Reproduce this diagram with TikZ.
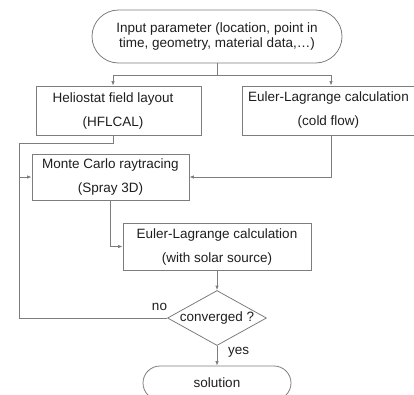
\documentclass[tikz,border=0pt]{standalone}
\usepackage{fontspec}
\setmainfont{Liberation Sans}
\usetikzlibrary{shapes.misc,shapes.geometric,arrows.meta}
\definecolor{linegray}{RGB}{125,125,125}
\definecolor{txtgray}{RGB}{30,30,30}
\tikzset{
  every node/.style={text=txtgray, inner sep=0pt},
  boxfont/.style={font=\fontsize{13.5}{24}\selectfont},
  stadium/.style={rounded rectangle, draw=linegray, line width=0.8pt},
  procbox/.style={rectangle, draw=linegray, line width=0.8pt},
  decision/.style={diamond, draw=linegray, line width=0.8pt},
  con/.style={draw=linegray, line width=0.8pt},
  arr/.style={con, -{Latex[length=4.5pt,width=3.5pt]}},
  lbl/.style={font=\fontsize{13.5}{16}\selectfont},
}
\begin{document}
\begin{tikzpicture}[x=1pt,y=-1pt]
\useasboundingbox (0,0) rectangle (414,394);

% terminals
\node[stadium, minimum width=250, minimum height=53, align=center,
      font=\fontsize{13.5}{15.5}\selectfont] (inp) at (217,36.5)
  {Input parameter (location, point in\\time, geometry, material data,\dots)};
\node[stadium, minimum width=148, minimum height=34, lbl] (sol) at (217,383) {solution};

% process boxes
\node[procbox, minimum width=165, minimum height=49] (hfl) at (118.5,110.5) {};
\node[boxfont, align=center] (hfltxt) at ([xshift=-5.5,yshift=-1]hfl.center)
  {Heliostat field layout\\(HFLCAL)};
\node[procbox, boxfont, align=center, minimum width=173, minimum height=49] (ecold) at (328.5,110.5)
  {Euler-Lagrange calculation\\(cold flow)};
\node[procbox, boxfont, align=center, minimum width=157, minimum height=46] (mc) at (110.5,177)
  {Monte Carlo raytracing\\(Spray 3D)};
\node[procbox, boxfont, align=center, minimum width=188, minimum height=47] (esol) at (217,246.5)
  {Euler-Lagrange calculation\\(with solar source)};

% decision
\node[decision, lbl, minimum width=99, minimum height=55, aspect=1.8] (dia) at (217,318) {converged ?};

% branch from the input parameters
\coordinate (split) at ([yshift=-12]inp.south);
\draw[con] (inp.south) -- (split);
\draw[arr] (split) -| ([xshift=-5.5]hfl.north);
\draw[arr] (split) -| ([xshift=2.5]ecold.north);

% feedback loop and heliostat output into the raytracer
\coordinate (jn) at (19,177);
\draw[con] ([xshift=-5.5]hfl.south) -- ++(0,8) -| (jn);
\draw[con] (dia.west) -| (jn);
\draw[arr] (jn) -- (mc.west);
\node[lbl] (no) at (159.5,307) {no};

% cold-flow result into the raytracer
\draw[arr] ([xshift=2.5]ecold.south) |- (mc.east);

% raytracer to solar calculation
\draw[arr] (mc.south) |- (esol.west);
\draw[arr] (esol.south) -- (dia.north);
\draw[arr] (dia.south) -- (sol.north);
\node[lbl] (yes) at (238.5,352) {yes};
\end{tikzpicture}
\end{document}
